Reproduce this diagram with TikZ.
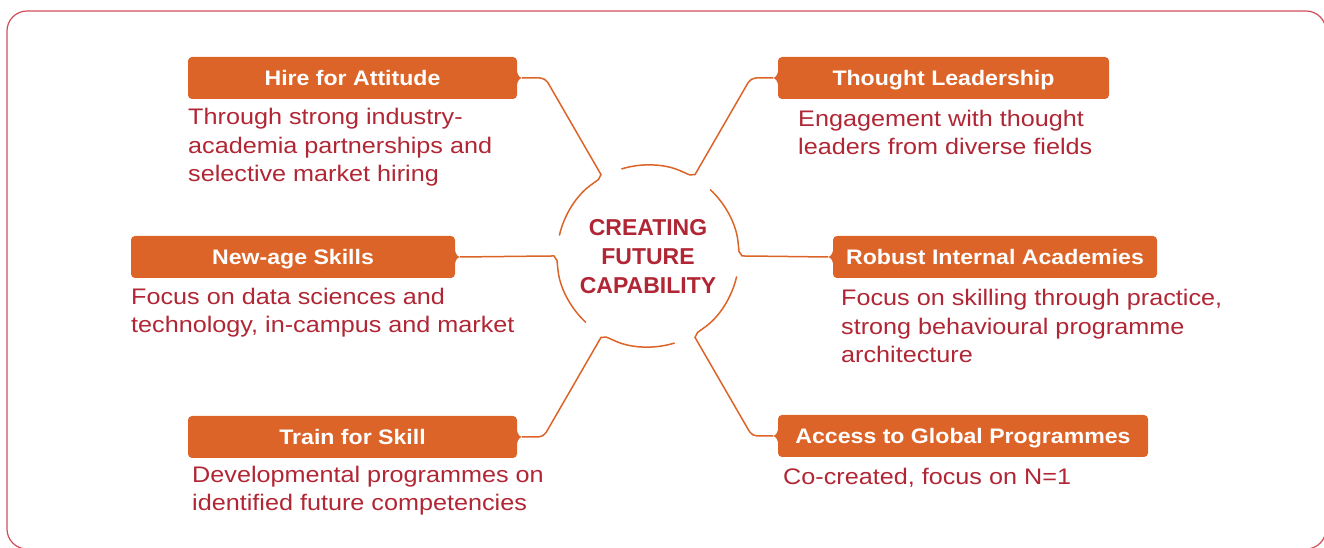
\documentclass[tikz,border=0pt]{standalone}
\usepackage{fontspec}
\setmainfont{Liberation Sans}
\newfontfamily\bodyfont[FakeStretch=1.12]{Liberation Sans}
\newfontfamily\boxfont[FakeStretch=1.1]{Liberation Sans}
\newfontfamily\titlefont{Liberation Sans}
\usetikzlibrary{calc}
\definecolor{boxorange}{RGB}{220,100,40}
\definecolor{textred}{RGB}{176,38,52}
\definecolor{framered}{RGB}{208,78,88}
\tikzset{
  boxstyle/.style={rectangle, fill=boxorange, rounded corners=4pt, minimum height=42pt,
    inner sep=0pt, text=white, text height=15pt, text depth=0pt,
    font=\boxfont\bfseries\fontsize{21}{25}\selectfont},
  bodytext/.style={anchor=base west, align=left, inner sep=0pt, text=textred,
    font=\bodyfont\fontsize{22.5}{28.7}\selectfont},
  titlestyle/.style={align=center, inner sep=0pt, text=textred,
    font=\titlefont\bfseries\fontsize{23}{29}\selectfont},
  conn/.style={draw=boxorange, line width=1.5pt, rounded corners=5pt},
  framestyle/.style={draw=framered, line width=1.2pt, rounded corners=20pt}
}
\newcommand\tabright[1]{%
  \fill[boxorange] ($(#1.east)+(-1,10)$) .. controls ($(#1.east)+(0,3)$) and ($(#1.east)+(2,0.5)$) .. ($(#1.east)+(5,0)$)
    .. controls ($(#1.east)+(2,-0.5)$) and ($(#1.east)+(0,-3)$) .. ($(#1.east)+(-1,-10)$) -- cycle;
  \coordinate (#1-tip) at ($(#1.east)+(5,0)$);}
\newcommand\tableft[1]{%
  \fill[boxorange] ($(#1.west)+(1,10)$) .. controls ($(#1.west)+(0,3)$) and ($(#1.west)+(-2,0.5)$) .. ($(#1.west)+(-5,0)$)
    .. controls ($(#1.west)+(-2,-0.5)$) and ($(#1.west)+(0,-3)$) .. ($(#1.west)+(1,-10)$) -- cycle;
  \coordinate (#1-tip) at ($(#1.west)+(-5,0)$);}
\begin{document}
\begin{tikzpicture}[x=1pt,y=1pt]
\useasboundingbox (0,0) rectangle (1324,548);
\draw[framestyle] (7,-1) rectangle (1326,537);

\coordinate (C) at (648,292);

% boxes
\node[boxstyle, minimum width=329pt] (hire) at (352.5,470) {Hire for Attitude};
\node[boxstyle, minimum width=331pt] (thought) at (943.5,470) {Thought Leadership};
\node[boxstyle, minimum width=324pt] (newage) at (293,291) {New-age Skills};
\node[boxstyle, minimum width=324pt] (robust) at (995,291) {Robust Internal Academies};
\node[boxstyle, minimum width=329pt] (train) at (352.5,111) {Train for Skill};
\node[boxstyle, minimum width=370pt] (access) at (963,112) {Access to Global Programmes};
\tabright{hire}
\tabright{newage}
\tabright{train}
\tableft{thought}
\tableft{robust}
\tableft{access}

% connectors and circle arcs
\coordinate (e1) at (545.2,470);
\coordinate (e2) at (750.8,470);
\coordinate (e4) at (543.5,111);
\coordinate (e5) at (752,112);
\draw[conn] (hire-tip) -- (e1) -- ($(C)+(120:99)$) to[out=300,in=36] ($(C)+(126:91)$) arc[start angle=126,end angle=167,radius=91];
\draw[conn] (thought-tip) -- (e2) -- ($(C)+(60:99)$) to[out=240,in=-24] ($(C)+(66:91)$) arc[start angle=66,end angle=107,radius=91];
\draw[conn] (newage-tip) -- ($(C)+(180:99)$) to[out=0,in=96] ($(C)+(186:91)$) arc[start angle=186,end angle=227,radius=91];
\draw[conn] (robust-tip) -- ($(C)+(0:99)$) to[out=180,in=-84] ($(C)+(6:91)$) arc[start angle=6,end angle=47,radius=91];
\draw[conn] (train-tip) -- (e4) -- ($(C)+(240:99)$) to[out=60,in=156] ($(C)+(246:91)$) arc[start angle=246,end angle=287,radius=91];
\draw[conn] (access-tip) -- (e5) -- ($(C)+(300:99)$) to[out=120,in=216] ($(C)+(306:91)$) arc[start angle=306,end angle=347,radius=91];

\node[titlestyle] (title) at (648,291) {CREATING\\FUTURE\\CAPABILITY};

% body texts (anchor = baseline of the last line)
\node[bodytext] (hireT) at (188,366) {Through strong industry-\\academia partnerships and\\selective market hiring};
\node[bodytext] (thoughtT) at (798,393) {Engagement with thought\\leaders from diverse fields};
\node[bodytext] (newageT) at (131,215) {Focus on data sciences and\\technology, in-campus and market};
\node[bodytext] (robustT) at (841,185) {Focus on skilling through practice,\\strong behavioural programme\\architecture};
\node[bodytext] (trainT) at (192,37) {Developmental programmes on\\identified future competencies};
\node[bodytext] (accessT) at (783,63) {Co-created, focus on N=1};
\end{tikzpicture}
\end{document}
